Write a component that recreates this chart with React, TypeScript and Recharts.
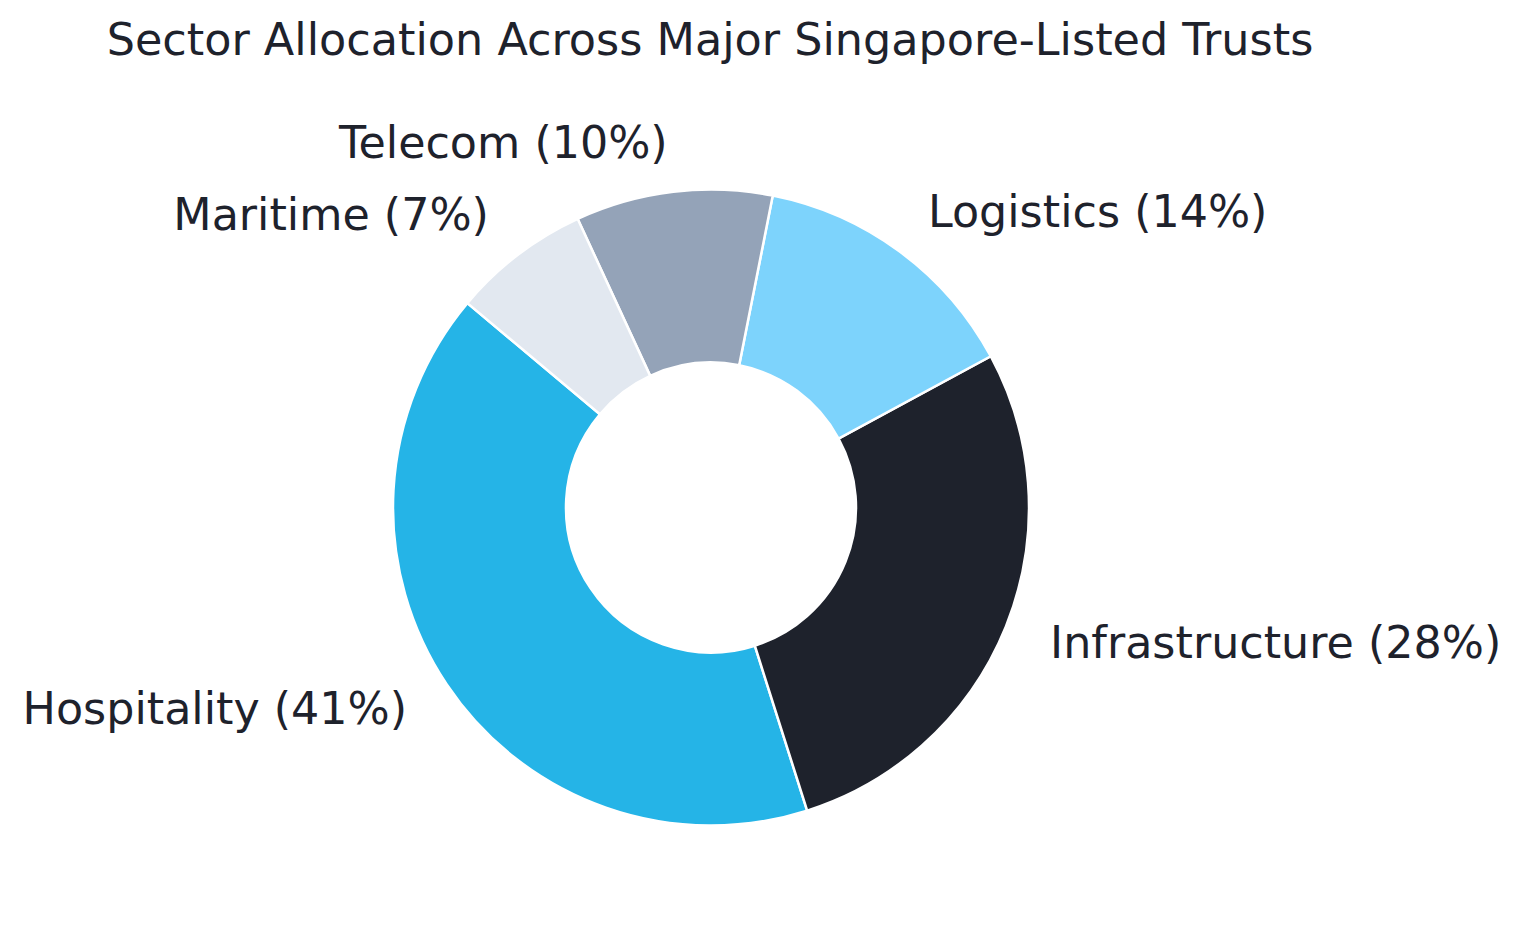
import { PieChart, Pie, Cell } from "recharts";

const SECTORS = ["Hospitality", "Infrastructure", "Logistics", "Telecom", "Maritime"];
const SHARES = [41, 28, 14, 10, 7];
const COLORS = ["#25B4E7", "#1E222C", "#7DD3FC", "#94A3B8", "#E2E8F0"];

const TITLE = "Sector Allocation Across Major Singapore-Listed Trusts";
const FONT = "'DejaVu Sans', sans-serif";
const TEXT_COLOR = "#1E222C";

const data = SECTORS.map((name, i) => ({ name, value: SHARES[i] }));

const RAD = Math.PI / 180;

const renderLabel = (props: any) => {
  const { cx, cy, midAngle, outerRadius, name, value } = props;
  const r = outerRadius * 1.15;
  const x = cx + r * Math.cos(-midAngle * RAD);
  const y = cy + r * Math.sin(-midAngle * RAD);
  return (
    <text
      x={x}
      y={y + 13.5}
      textAnchor={x < cx ? "end" : "start"}
      fill={TEXT_COLOR}
      fontSize={44.4}
      fontFamily={FONT}
    >
      {`${name} (${value}%)`}
    </text>
  );
};

const App = () => (
  <div style={{ position: "absolute", left: 0, top: 0, width: 1523, height: 927, background: "#fff" }}>
    <PieChart width={1523} height={927} margin={{ top: 0, right: 0, bottom: 0, left: 0 }}>
      <Pie
        data={data}
        dataKey="value"
        nameKey="name"
        cx={711}
        cy={507.5}
        innerRadius={145}
        outerRadius={318}
        startAngle={140}
        endAngle={500}
        stroke="#ffffff"
        strokeWidth={2.5}
        label={renderLabel}
        labelLine={false}
        isAnimationActive={false}
      >
        {data.map((d, i) => (
          <Cell key={d.name} fill={COLORS[i]} />
        ))}
      </Pie>
    </PieChart>
    <svg width={1523} height={80} style={{ position: "absolute", left: 0, top: 0, pointerEvents: "none" }}>
      <text x={710} y={55} textAnchor="middle" fill={TEXT_COLOR} fontSize={44.5} fontFamily={FONT}>
        {TITLE}
      </text>
    </svg>
  </div>
);

export default App;
